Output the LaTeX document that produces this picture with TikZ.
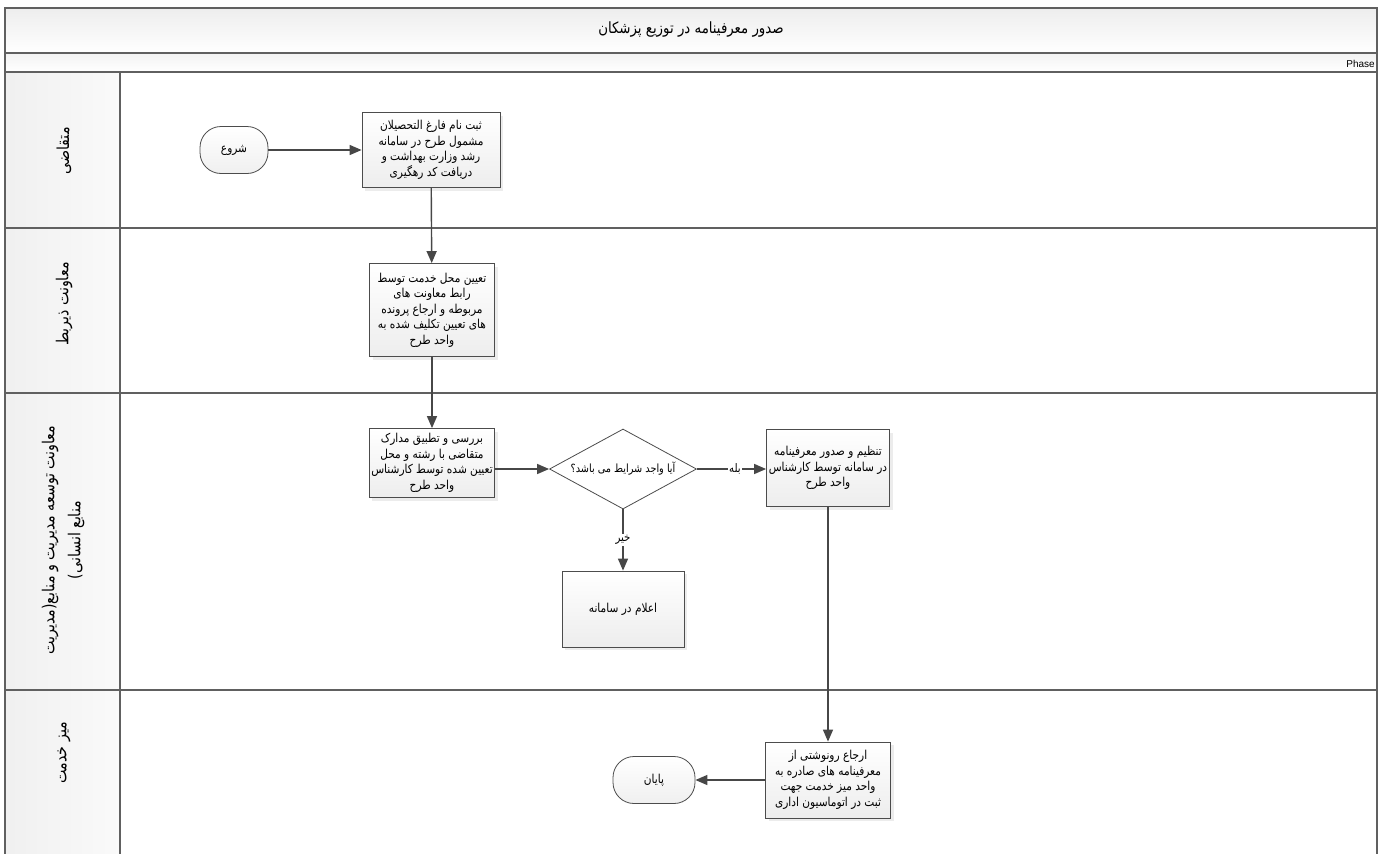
\documentclass[tikz,border=0pt]{standalone}
\usepackage{fontspec}
\setmainfont{Liberation Sans}
\newfontfamily\arabicfont[Script=Arabic, FakeStretch=0.86]{DejaVu Sans}
\TeXXeTstate=1
\usetikzlibrary{arrows.meta,shapes.geometric,shadows}
\newcommand{\fa}[1]{\beginR #1\endR}

\tikzset{
  lane/.style={draw=gray!75!black, line width=1.2pt},
  task/.style={draw=gray!60!black, line width=0.8pt, top color=white, bottom color=gray!14,
    drop shadow={shadow xshift=3pt, shadow yshift=-3pt, fill=gray!30},
    align=center, inner sep=2pt, font=\arabicfont\fontsize{12.3}{15.5}\selectfont},
  term/.style={draw=gray!60!black, line width=0.8pt, top color=white, bottom color=gray!12,
    rounded corners=21pt, font=\arabicfont\fontsize{12.3}{13}\selectfont},
  decision/.style={diamond, draw=gray!60!black, line width=0.8pt, fill=white, aspect=1.8,
    inner sep=0pt, minimum width=147pt, minimum height=80pt, font=\arabicfont\fontsize{11.3}{12}\selectfont},
  flow/.style={-{Triangle[length=12pt,width=10pt]}, draw=black!72, line width=1.4pt},
  answer/.style={fill=white, inner sep=1pt, font=\arabicfont\fontsize{11.8}{12}\selectfont},
  lanetitle/.style={rotate=90, align=center, font=\arabicfont\fontsize{16.5}{26}\selectfont}
}

\begin{document}
\begin{tikzpicture}[x=1pt, y=-1pt]
  \useasboundingbox (0,0) rectangle (1382,854);
  % Pool
  \fill[top color=gray!14, bottom color=white] (5,8) rectangle (1377,53);
  \fill[top color=gray!10, bottom color=white] (5,53) rectangle (1377,72);
  \fill[left color=gray!12, right color=gray!4] (5,72) rectangle (120,854);
  \draw[lane] (5,854) -- (5,8) -- (1377,8) -- (1377,854);
  \foreach \y in {53,72,228,393,690}
    \draw[lane] (5,\y) -- (1377,\y);
  \draw[lane] (120,72) -- (120,854);
  \node[font=\arabicfont\fontsize{15.5}{16}\selectfont] (title) at (691,30) {\fa{صدور معرفینامه در توزیع پزشکان}};
  \node[anchor=east, inner sep=1pt, font=\fontsize{10}{12}\selectfont] (phase) at (1376,64) {Phase};

  % Lanes
  \node[lanetitle] (applicant) at (64,151) {\fa{متقاضی}};
  \node[lanetitle] (deputy) at (64,304) {\fa{معاونت ذیربط}};
  \node[lanetitle] (hrm) at (63,540) {\fa{معاونت توسعه مدیریت و منابع(مدیریت}\\\fa{منابع انسانی)}};
  \node[lanetitle] (desk) at (64,753) {\fa{میز خدمت}};

  % Steps
  \node[term, minimum width=68pt, minimum height=47pt] (start) at (234,150) {\fa{شروع}};
  \node[task, minimum width=138pt, minimum height=75pt] (reg) at (431,150)
    {\fa{ثبت نام فارغ التحصیلان}\\\fa{مشمول طرح در سامانه}\\\fa{رشد وزارت بهداشت و}\\\fa{دریافت کد رهگیری}};
  \node[task, minimum width=125pt, minimum height=93pt] (assign) at (432,310)
    {\fa{تعیین محل خدمت توسط}\\\fa{رابط معاونت های}\\\fa{مربوطه و ارجاع پرونده}\\\fa{های تعیین تکلیف شده به}\\\fa{واحد طرح}};
  \node[task, minimum width=125pt, minimum height=69pt] (review) at (432,463)
    {\fa{بررسی و تطبیق مدارک}\\\fa{متقاضی با رشته و محل}\\\fa{تعیین شده توسط کارشناس}\\\fa{واحد طرح}};
  \node[decision] (check) at (623,469) {\fa{آیا واجد شرایط می باشد؟}};
  \node[task, minimum width=123pt, minimum height=77pt] (issue) at (828,468)
    {\fa{تنظیم و صدور معرفینامه}\\\fa{در سامانه توسط کارشناس}\\\fa{واحد طرح}};
  \node[task, minimum width=122pt, minimum height=76pt] (notify) at (623,609) {\fa{اعلام در سامانه}};
  \node[task, minimum width=125pt, minimum height=76pt] (copy) at (828,780)
    {\fa{ارجاع رونوشتی از}\\\fa{معرفینامه های صادره به}\\\fa{واحد میز خدمت جهت}\\\fa{ثبت در اتوماسیون اداری}};
  \node[term, minimum width=82pt, minimum height=47pt] (finish) at (654,780) {\fa{پایان}};

  % Connectors
  \draw[flow] (start) -- (reg);
  \draw[flow] (reg) -- (assign);
  \draw[flow] (assign) -- (review);
  \draw[flow] (review.east |- check.west) -- (check.west);
  \draw[flow] (check.east) -- node[answer, pos=0.55] {\fa{بله}} (check.east -| issue.west);
  \draw[flow] (check.south) -- node[answer] {\fa{خیر}} (notify.north);
  \draw[flow] (issue) -- (copy);
  \draw[flow] (copy) -- (finish);
\end{tikzpicture}
\end{document}
